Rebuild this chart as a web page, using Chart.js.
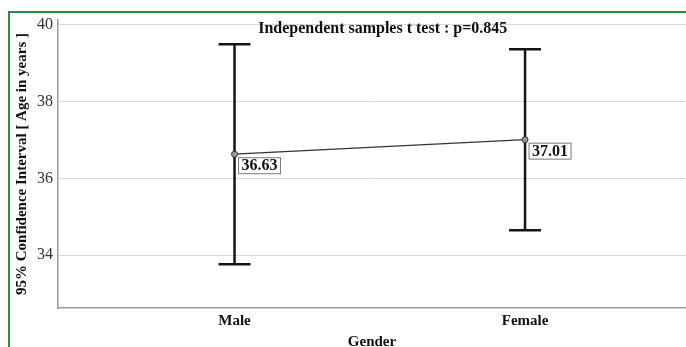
<!DOCTYPE html>
<html><head><meta charset="utf-8">
<script src="https://cdn.jsdelivr.net/npm/chart.js@4"></script>
<style>
html,body{margin:0;padding:0;background:#fff;}
#wrap{position:relative;width:686px;height:347px;overflow:hidden;}
#frame{position:absolute;left:8px;top:11px;right:-4px;bottom:-4px;border-left:2px solid #23913f;border-top:2px solid #23913f;pointer-events:none;}
canvas{position:absolute;left:0;top:0;}
</style></head><body>
<div id="wrap"><canvas id="c" width="686" height="347"></canvas><div id="frame"></div></div>
<script>
const categories = ['Male', 'Female'];
const means = [36.63, 37.01];
const lowerCI = [33.76, 34.65];
const upperCI = [39.50, 39.37];
const yTickValues = [34, 36, 38, 40];
const chartTitle = 'Independent samples t test : p=0.845';
const yAxisTitle = '95% Confidence Interval [ Age in years ]';
const xAxisTitle = 'Gender';

const SERIF = '"Liberation Serif", "Times New Roman", serif';

const errorBarPlugin = {
  id: 'errorBars',
  beforeDatasetsDraw(chart) {
    const {ctx, scales: {x, y}} = chart;
    ctx.save();
    ctx.strokeStyle = '#151515';
    ctx.lineWidth = 2.5;
    categories.forEach((c, i) => {
      const px = x.getPixelForValue(i);
      const yl = y.getPixelForValue(lowerCI[i]);
      const yu = y.getPixelForValue(upperCI[i]);
      ctx.beginPath();
      ctx.moveTo(px, yl); ctx.lineTo(px, yu);
      ctx.moveTo(px - 16, yu); ctx.lineTo(px + 16, yu);
      ctx.moveTo(px - 16, yl); ctx.lineTo(px + 16, yl);
      ctx.stroke();
    });
    ctx.restore();
  },
  afterDatasetsDraw(chart) {
    const {ctx} = chart;
    const meta = chart.getDatasetMeta(0);
    ctx.save();
    ctx.font = 'bold 16px ' + SERIF;
    ctx.textBaseline = 'middle';
    ctx.textAlign = 'center';
    meta.data.forEach((pt, i) => {
      const label = means[i].toFixed(2);
      const w = ctx.measureText(label).width + 6;
      const h = 16;
      const bx = pt.x + 3.5, by = pt.y + 3;
      ctx.fillStyle = '#fff';
      ctx.fillRect(bx, by, w, h);
      ctx.strokeStyle = '#7a7a7a';
      ctx.lineWidth = 1;
      ctx.strokeRect(bx + 0.5, by + 0.5, w, h);
      ctx.fillStyle = '#111';
      ctx.fillText(label, bx + w / 2 + 0.5, by + h / 2 + 1);
    });
    ctx.restore();
  },
  afterDraw(chart) {
    const {ctx, chartArea, scales: {x}} = chart;
    ctx.save();
    ctx.font = 'bold 16px ' + SERIF;
    ctx.fillStyle = '#111';
    ctx.textAlign = 'center';
    ctx.textBaseline = 'middle';
    ctx.fillText(chartTitle, x.getPixelForValue(0.5) + 3, chartArea.top + 9);
    ctx.restore();
  }
};

new Chart(document.getElementById('c'), {
  type: 'line',
  data: {
    datasets: [{
      data: means.map((m, i) => ({x: i, y: m})),
      borderColor: '#333',
      borderWidth: 1.2,
      pointRadius: 3,
      pointBackgroundColor: '#9a9a9a',
      pointBorderColor: '#333',
      pointBorderWidth: 1,
      fill: false,
      tension: 0
    }]
  },
  options: {
    responsive: false,
    animation: false,
    layout: {autoPadding: false, padding: {top: 20, left: 0, right: 0, bottom: 0}},
    plugins: {legend: {display: false}, tooltip: {enabled: false}, title: {display: false}},
    scales: {
      x: {
        type: 'linear',
        min: -0.6076,
        max: 1.554,
        afterBuildTicks: s => { s.ticks = categories.map((c, i) => ({value: i})); },
        afterFit: s => { s.height = 39; },
        grid: {display: false, drawTicks: false},
        border: {display: true, color: '#9a9a9a', width: 1.5},
        ticks: {
          callback: v => categories[v],
          font: {family: SERIF, size: 15, weight: 'bold'},
          color: '#111',
          padding: 4,
          maxRotation: 0
        },
        title: {
          display: true,
          text: xAxisTitle,
          font: {family: SERIF, size: 15, weight: 'bold'},
          color: '#111',
          padding: {top: 0, bottom: -4}
        }
      },
      y: {
        type: 'linear',
        min: 32.62,
        max: 40.13,
        afterBuildTicks: s => { s.ticks = yTickValues.map(v => ({value: v})); },
        afterFit: s => { s.width = 58; },
        grid: {color: '#d6d6d6', lineWidth: 1, drawTicks: false},
        border: {display: true, color: '#9a9a9a', width: 1.5},
        ticks: {
          font: {family: SERIF, size: 16},
          color: '#333',
          padding: 5
        },
        title: {
          display: true,
          text: yAxisTitle,
          font: {family: SERIF, size: 15, weight: 'bold'},
          color: '#111',
          padding: {top: 13, bottom: 0}
        }
      }
    }
  },
  plugins: [errorBarPlugin]
});
</script>
</body></html>
